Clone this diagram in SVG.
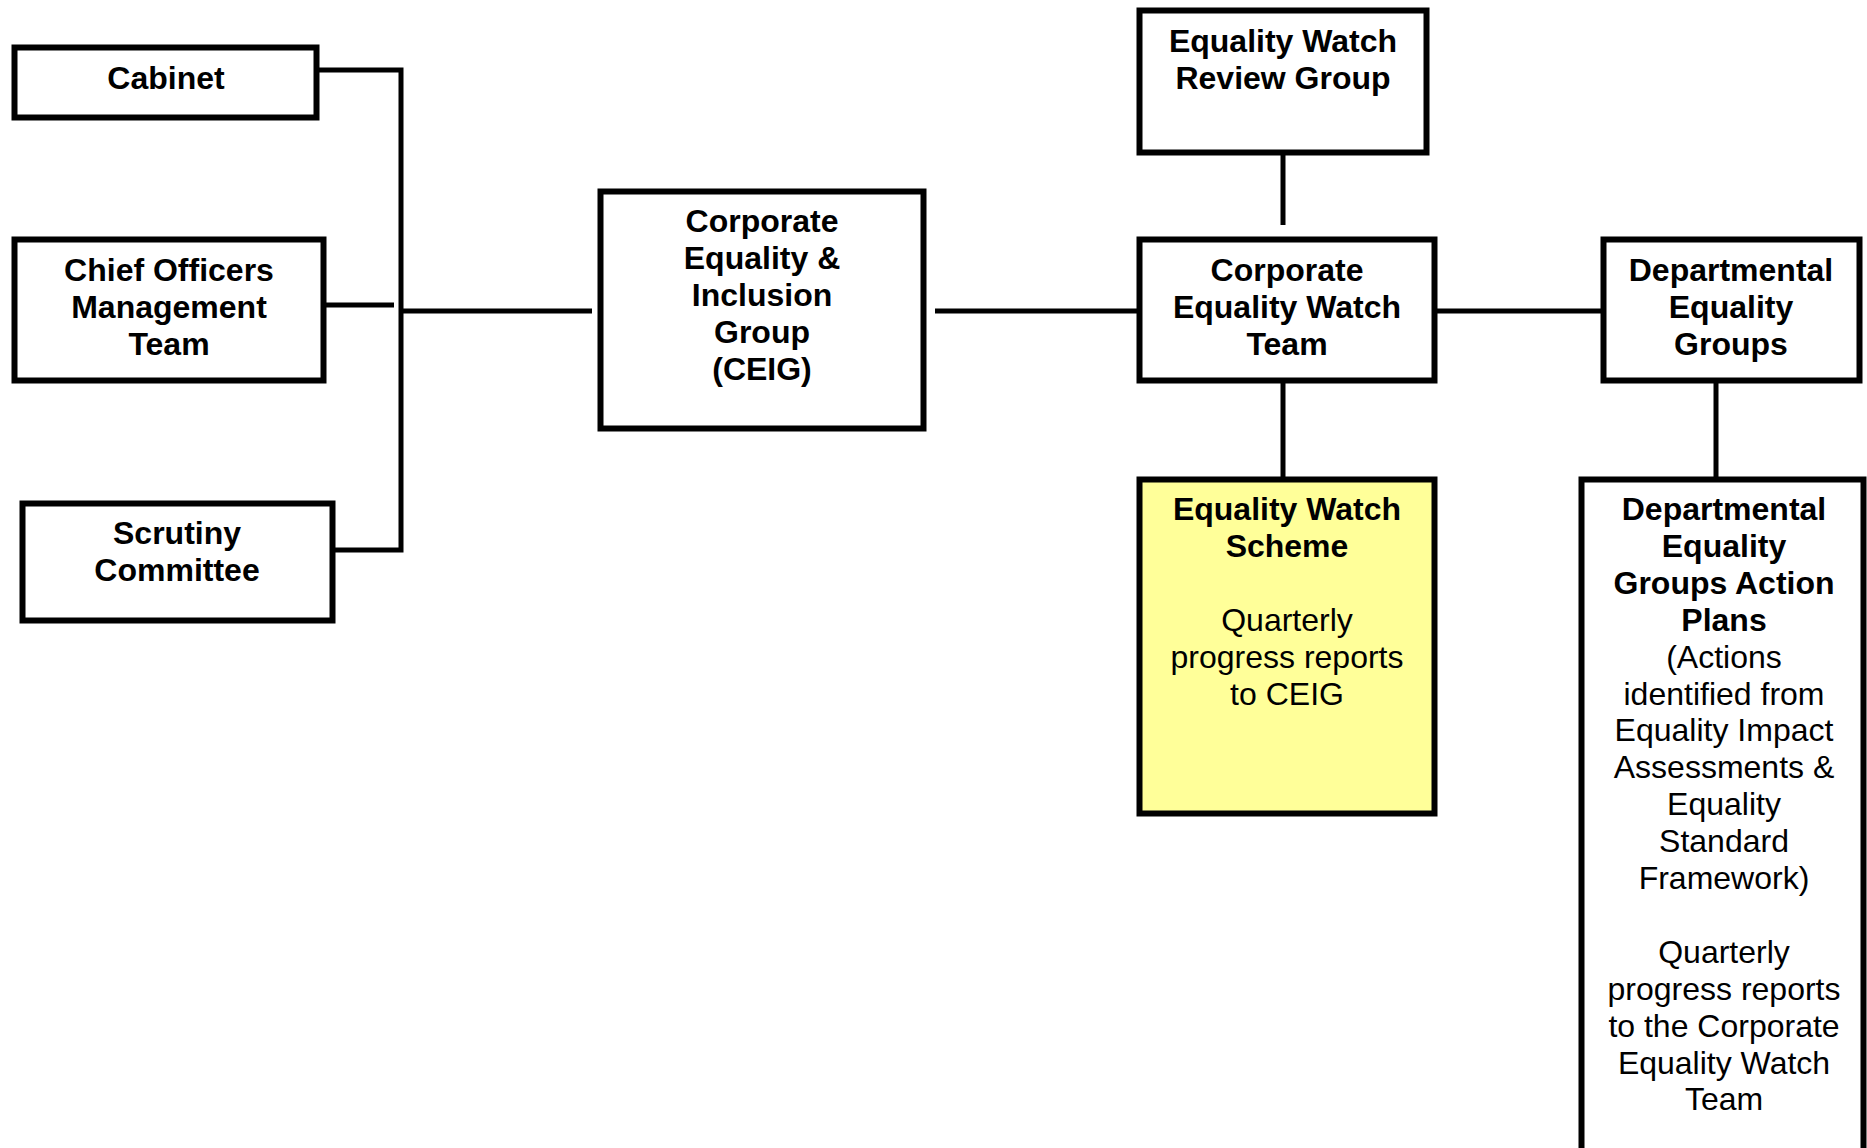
<svg xmlns="http://www.w3.org/2000/svg" width="1867" height="1148" viewBox="0 0 1867 1148">
<style>
.box{fill:#fff;stroke:#000;stroke-width:6}
.yel{fill:#FFFF99}
.con{fill:none;stroke:#000;stroke-width:5}
text{font-family:"Liberation Sans",Arial,sans-serif;font-size:32px;text-anchor:middle;fill:#000}
.b{font-weight:bold}
</style>
<rect width="1867" height="1148" fill="#fff"/>
<g id="connectors">
<path class="con" d="M319,70 H401 V550 H335"/>
<path class="con" d="M326,305 H394"/>
<path class="con" d="M401,311 H592"/>
<path class="con" d="M935,311 H1137"/>
<path class="con" d="M1283,155 V225"/>
<path class="con" d="M1437,311 H1601"/>
<path class="con" d="M1283,383 V477"/>
<path class="con" d="M1716,383 V477"/>
</g>
<g id="cabinet">
<rect class="box" x="14.5" y="47.5" width="302" height="70"/>
<text class="b" x="166" y="89">Cabinet</text>
</g>
<g id="comt">
<rect class="box" x="14.5" y="239.5" width="309" height="141"/>
<text class="b" x="169" y="281">Chief Officers</text>
<text class="b" x="169" y="318">Management</text>
<text class="b" x="169" y="355">Team</text>
</g>
<g id="scrutiny">
<rect class="box" x="22.5" y="503.5" width="310" height="117"/>
<text class="b" x="177" y="544">Scrutiny</text>
<text class="b" x="177" y="581">Committee</text>
</g>
<g id="ceig">
<rect class="box" x="600.5" y="191.5" width="323" height="237"/>
<text class="b" x="762" y="232">Corporate</text>
<text class="b" x="762" y="269">Equality &amp;</text>
<text class="b" x="762" y="306">Inclusion</text>
<text class="b" x="762" y="343">Group</text>
<text class="b" x="762" y="380">(CEIG)</text>
</g>
<g id="ewrg">
<rect class="box" x="1139.5" y="10.5" width="287" height="142"/>
<text class="b" x="1283" y="52">Equality Watch</text>
<text class="b" x="1283" y="89">Review Group</text>
</g>
<g id="cewt">
<rect class="box" x="1139.5" y="239.5" width="295" height="141"/>
<text class="b" x="1287" y="281">Corporate</text>
<text class="b" x="1287" y="318">Equality Watch</text>
<text class="b" x="1287" y="355">Team</text>
</g>
<g id="deg">
<rect class="box" x="1603.5" y="239.5" width="256" height="141"/>
<text class="b" x="1731" y="281">Departmental</text>
<text class="b" x="1731" y="318">Equality</text>
<text class="b" x="1731" y="355">Groups</text>
</g>
<g id="ews">
<rect class="box yel" x="1139.5" y="479.5" width="295" height="334"/>
<text class="b" x="1287" y="520">Equality Watch</text>
<text class="b" x="1287" y="557">Scheme</text>
<text x="1287" y="631">Quarterly</text>
<text x="1287" y="668">progress reports</text>
<text x="1287" y="705">to CEIG</text>
</g>
<g id="degap">
<rect class="box" x="1581.5" y="479.5" width="282" height="700"/>
<text class="b" x="1724" y="520">Departmental</text>
<text class="b" x="1724" y="557">Equality</text>
<text class="b" x="1724" y="594">Groups Action</text>
<text class="b" x="1724" y="631">Plans</text>
<text x="1724" y="668">(Actions</text>
<text x="1724" y="705">identified from</text>
<text x="1724" y="741">Equality Impact</text>
<text x="1724" y="778">Assessments &amp;</text>
<text x="1724" y="815">Equality</text>
<text x="1724" y="852">Standard</text>
<text x="1724" y="889">Framework)</text>
<text x="1724" y="963">Quarterly</text>
<text x="1724" y="1000">progress reports</text>
<text x="1724" y="1037">to the Corporate</text>
<text x="1724" y="1074">Equality Watch</text>
<text x="1724" y="1110">Team</text>
</g>
</svg>
